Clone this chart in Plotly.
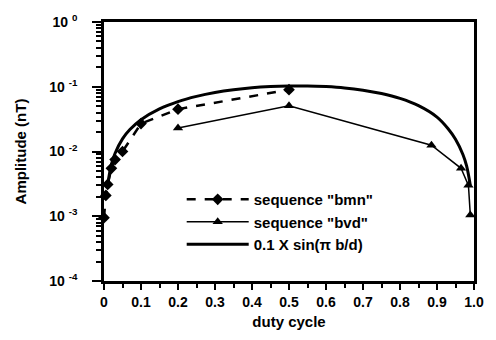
import plotly.graph_objects as go

# ---- data ----
bmn_x = [0.0, 0.005, 0.01, 0.02, 0.03, 0.05, 0.1, 0.2, 0.5]
bmn_y = [0.00095, 0.0021, 0.0031, 0.0055, 0.0075, 0.010, 0.027, 0.045, 0.090]

bvd_x = [0.2, 0.5, 0.885, 0.965, 0.985, 0.99]
bvd_y = [0.023, 0.051, 0.0125, 0.0055, 0.0030, 0.00105]

sin_x = [0.01, 0.02, 0.03, 0.05, 0.07, 0.10, 0.15, 0.20, 0.25, 0.30, 0.35, 0.40,
         0.45, 0.50, 0.55, 0.60, 0.65, 0.70, 0.75, 0.80, 0.85, 0.90, 0.93, 0.95,
         0.97, 0.98, 0.99]
sin_y = [0.0031, 0.0063, 0.0094, 0.0157, 0.0218, 0.0310, 0.0455, 0.0590, 0.0710,
         0.0815, 0.0900, 0.0965, 0.1005, 0.1025, 0.1030, 0.1005, 0.0960, 0.0885,
         0.0785, 0.0660, 0.0510, 0.0340, 0.0225, 0.0155, 0.0090, 0.0060, 0.0030]

x_tickvals = [0, 0.1, 0.2, 0.3, 0.4, 0.5, 0.6, 0.7, 0.8, 0.9, 1.0]
x_ticktext = ["0", "0.1", "0.2", "0.3", "0.4", "0.5", "0.6", "0.7", "0.8", "0.9", "1.0"]
y_tickvals = [1e-4, 1e-3, 1e-2, 1e-1, 1e0]
y_ticktext = ["10 <sup>-4</sup>", "10 <sup>-3</sup>", "10 <sup>-2</sup>",
              "10 <sup>-1</sup>", "10 <sup>0</sup>"]
y_minor = [m * 10 ** e for e in (-4, -3, -2, -1) for m in range(2, 10)]
x_minor = [round(0.05 + i * 0.1, 2) for i in range(10)]

FONT = "Liberation Sans, Arial, sans-serif"

fig = go.Figure()
fig.add_trace(go.Scatter(
    x=bmn_x, y=bmn_y, mode="lines+markers", name='sequence "bmn"',
    line=dict(color="black", width=2.5, dash="dash"),
    marker=dict(symbol="diamond", size=9, color="black"),
    cliponaxis=False))
fig.add_trace(go.Scatter(
    x=bvd_x, y=bvd_y, mode="lines+markers", name='sequence "bvd"',
    line=dict(color="black", width=1.5),
    marker=dict(symbol="triangle-up", size=9, color="black"),
    cliponaxis=False))
fig.add_trace(go.Scatter(
    x=sin_x, y=sin_y, mode="lines", name="0.1 X sin(\u03c0 b/d)",
    line=dict(color="black", width=3, shape="spline"),
    cliponaxis=False))

fig.update_layout(
    width=496, height=340,
    margin=dict(l=104, r=15, t=19, b=55),
    paper_bgcolor="white", plot_bgcolor="white",
    font=dict(family=FONT, color="black"),
    showlegend=True,
    legend=dict(x=0.21, y=0.378, xanchor="left", yanchor="top",
                bgcolor="rgba(0,0,0,0)",
                font=dict(size=15, family=FONT, weight="bold"),
                tracegroupgap=0, itemwidth=62),
    xaxis=dict(
        range=[0, 1], tickmode="array", tickvals=x_tickvals, ticktext=x_ticktext,
        ticks="outside", ticklen=6, tickwidth=2, tickcolor="black",
        showline=True, linecolor="black", linewidth=2.5, mirror=True,
        showgrid=False, zeroline=False,
        tickfont=dict(size=14, family=FONT, weight="bold"),
        minor=dict(tickmode="array", tickvals=x_minor, ticks="outside", ticklen=4,
                   tickwidth=2, tickcolor="black"),
        title=dict(text="<b>duty cycle</b>", font=dict(size=15, family=FONT), standoff=8),
    ),
    yaxis=dict(
        type="log", range=[-4, 0], tickmode="array", tickvals=y_tickvals,
        ticktext=y_ticktext,
        ticks="outside", ticklen=9, tickwidth=2, tickcolor="black",
        showline=True, linecolor="black", linewidth=2.5, mirror=True,
        showgrid=False, zeroline=False, ticklabelstandoff=12,
        tickfont=dict(size=14, family=FONT, weight="bold"),
        minor=dict(tickmode="array", tickvals=y_minor, ticks="outside", ticklen=5,
                   tickwidth=1.5, tickcolor="black"),
        title=dict(text="<b>Amplitude (nT)</b>", font=dict(size=15, family=FONT), standoff=20),
    ),
)

fig.write_html("out.html")
